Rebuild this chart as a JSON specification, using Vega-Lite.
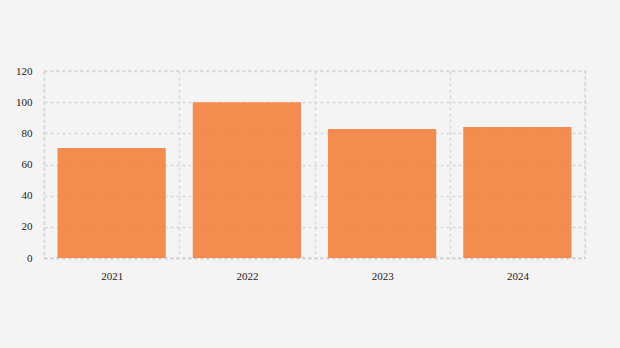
{
  "$schema": "https://vega.github.io/schema/vega-lite/v6.json",
  "width": 541,
  "height": 187,
  "padding": {"left": 44, "top": 71, "right": 35, "bottom": 90},
  "autosize": {"type": "none"},
  "background": "#f4f4f4",
  "config": {
    "view": {"stroke": "#d8d8d8", "strokeDash": [3, 3], "strokeWidth": 1.5},
    "font": "Liberation Serif"
  },
  "data": {
    "values": [
      {"year": "2021", "value": 70.6},
      {"year": "2022", "value": 100},
      {"year": "2023", "value": 82.8},
      {"year": "2024", "value": 84.1}
    ]
  },
  "mark": {"type": "bar", "color": "#f4803d", "opacity": 0.9, "width": {"band": 0.8}},
  "encoding": {
    "x": {
      "field": "year",
      "type": "ordinal",
      "title": null,
      "scale": {"paddingInner": 0, "paddingOuter": 0},
      "axis": {
        "labelAngle": 0,
        "labelFont": "Liberation Serif",
        "labelFontSize": 11,
        "labelColor": "#222",
        "labelPadding": 12,
        "domainColor": "#d0d0d0",
        "domainDash": [3, 3],
        "domainWidth": 1.5,
        "ticks": false,
        "grid": true,
        "gridColor": "#d8d8d8",
        "gridDash": [3, 3],
        "gridWidth": 1.5,
        "tickBand": "extent",
        "zindex": 0
      }
    },
    "y": {
      "field": "value",
      "type": "quantitative",
      "title": null,
      "scale": {"domain": [0, 120]},
      "axis": {
        "values": [0, 20, 40, 60, 80, 100, 120],
        "labelFont": "Liberation Serif",
        "labelFontSize": 11,
        "labelColor": "#222",
        "labelPadding": 12,
        "domain": false,
        "ticks": false,
        "grid": true,
        "gridColor": "#d8d8d8",
        "gridDash": [3, 3],
        "gridWidth": 1.5,
        "zindex": 0
      }
    }
  }
}
